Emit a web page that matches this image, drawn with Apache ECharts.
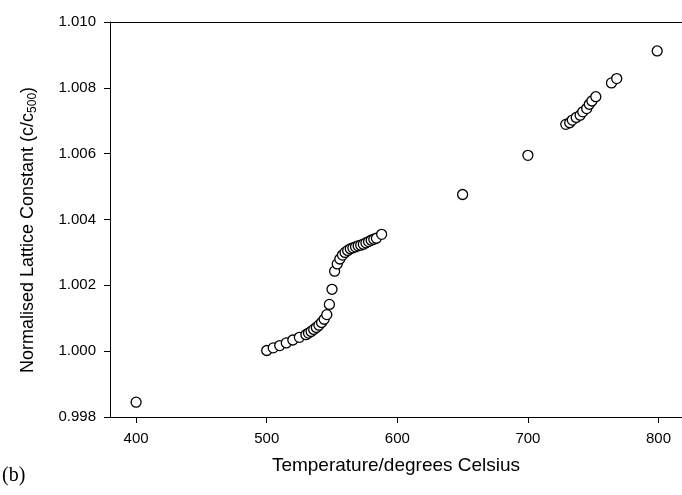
<!DOCTYPE html>
<html>
<head>
<meta charset="utf-8">
<script src="https://cdn.jsdelivr.net/npm/echarts@6/dist/echarts.min.js"></script>
<style>
html,body{margin:0;padding:0;background:#fff;}
#chart{width:682px;height:495px;}
</style>
</head>
<body>
<div id="chart"></div>
<script>
// Data
var temperature = [400,
  500,505,510,515,520,525,530,532,534,536,538,540,542,544,546,548,550,552,
  554,556,558,560,562,564,566,568,570,572,574,576,578,580,582,584,588,
  650,700,
  729,732,734,737,740,742,745,747,749,752,
  764,768,799];
var latticeConstant = [0.99845,
  1.00002,1.00010,1.00017,1.00025,1.00034,1.00042,1.00050,1.00055,1.00060,1.00066,1.00072,1.00079,1.00087,1.00097,1.00111,1.00142,1.00188,1.00243,
  1.00265,1.00280,1.00292,1.00300,1.00306,1.00311,1.00314,1.00317,1.00320,1.00322,1.00325,1.00329,1.00333,1.00337,1.00340,1.00343,1.00355,
  1.00476,1.00595,
  1.00689,1.00694,1.00702,1.00710,1.00717,1.00727,1.00737,1.00750,1.00760,1.00773,
  1.00815,1.00828,1.00912];
var xTicks = [400,500,600,700,800];
var yTicks = [0.998,1.000,1.002,1.004,1.006,1.008,1.010];
var xTitle = 'Temperature/degrees Celsius';
var yTitle = 'Normalised Lattice Constant (c/c{sub|500})';

var points = temperature.map(function(t,i){return [t, latticeConstant[i]];});
var chart = echarts.init(document.getElementById('chart'));
var font = 'Liberation Sans, Arial, sans-serif';
chart.setOption({
  animation:false,
  backgroundColor:'#fff',
  grid:{left:110,top:22,right:0,bottom:78},
  xAxis:[{
    type:'value', min:380, max:818,
    name:xTitle, nameLocation:'middle', nameGap:39,
    nameTextStyle:{fontFamily:font,fontSize:19,color:'#000'},
    axisLine:{show:true,onZero:false,lineStyle:{color:'#000',width:1}},
    axisTick:{show:true,length:6,inside:false,customValues:xTicks,lineStyle:{color:'#000'}},
    axisLabel:{customValues:xTicks,fontFamily:font,fontSize:15,color:'#000',margin:14},
    splitLine:{show:false}
  },{
    type:'value', min:380, max:818, position:'top',
    axisLine:{show:true,onZero:false,lineStyle:{color:'#000',width:1}},
    axisTick:{show:false}, axisLabel:{show:false}, splitLine:{show:false}
  }],
  yAxis:{
    type:'value', min:0.998, max:1.010,
    axisLine:{show:true,onZero:false,lineStyle:{color:'#000',width:1}},
    axisTick:{show:true,length:6,customValues:yTicks,lineStyle:{color:'#000'}},
    axisLabel:{customValues:yTicks,fontFamily:font,fontSize:15,color:'#000',margin:14,
      formatter:function(v){return v.toFixed(3);}},
    splitLine:{show:false}
  },
  graphic:[
    {type:'text',left:2,top:466,style:{text:'(b)',fontFamily:'Liberation Serif, Times New Roman, serif',fontSize:20,fill:'#000'}},
    {type:'text',x:28,y:230,rotation:Math.PI/2,
      style:{text:yTitle,fontFamily:font,fontSize:18,fill:'#000',align:'center',verticalAlign:'middle',
        rich:{sub:{fontFamily:font,fontSize:12,fill:'#000',padding:[9,0,0,0]}}}}
  ],
  series:[{
    type:'scatter', data:points, symbol:'circle', symbolSize:10,
    itemStyle:{color:'#fff',borderColor:'#000',borderWidth:1.3,opacity:1}
  }]
});
</script>
</body>
</html>
